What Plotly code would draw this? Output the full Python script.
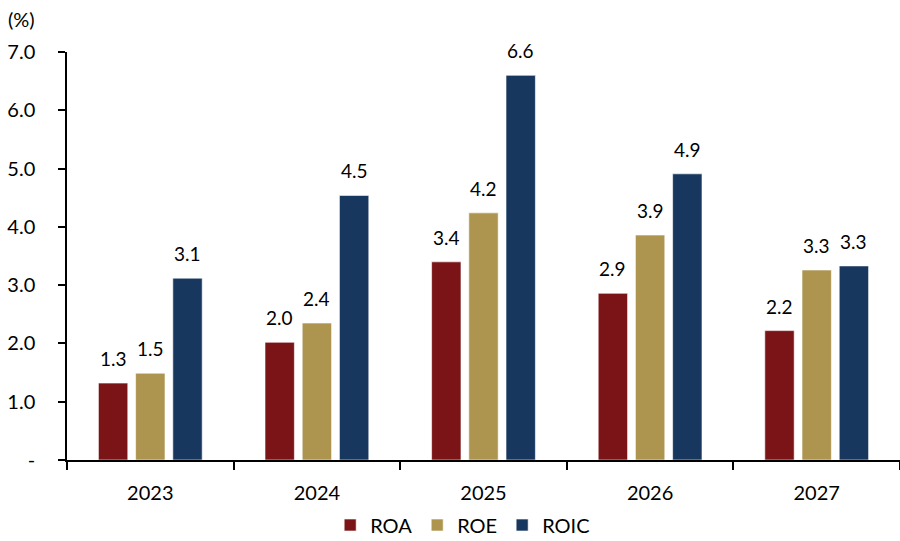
import plotly.graph_objects as go

years = ["2023", "2024", "2025", "2026", "2027"]
roa = [1.32, 2.02, 3.40, 2.86, 2.22]
roe = [1.49, 2.35, 4.24, 3.86, 3.26]
roic = [3.12, 4.54, 6.60, 4.91, 3.33]

series = [("ROA", roa, "#7B1416"), ("ROE", roe, "#AD954F"), ("ROIC", roic, "#17375E")]

y_ticks = [0, 1, 2, 3, 4, 5, 6, 7]
y_ticktext = ["-", "1.0", "2.0", "3.0", "4.0", "5.0", "6.0", "7.0"]

FONT = "Lato"
AXIS_SIZE = 20
LABEL_SIZE = 19
W, H = 900, 541
M_L, M_R, M_T, M_B = 67, 0, 52, 81
BARGAP = 0.33
BARGROUPGAP = 0.21

fig = go.Figure()
for name, vals, color in series:
    fig.add_trace(go.Bar(
        x=years, y=vals, name=name,
        marker=dict(color=color, line=dict(color="rgba(255,255,255,0.6)", width=1)),
    ))

# value labels above each bar, offset to the bar's slot within the group
plot_w = W - M_L - M_R
plot_h = H - M_T - M_B
slot = plot_w / len(years) * (1 - BARGAP) / len(series)
for i, (name, vals, color) in enumerate(series):
    for j, v in enumerate(vals):
        fig.add_annotation(
            x=j, y=v, xref="x", yref="y",
            text=f"{v:.1f}", showarrow=False,
            xshift=(i - 1) * slot, yshift=11,
            yanchor="bottom", xanchor="center",
            font=dict(family=FONT, size=LABEL_SIZE, color="#000000"),
        )

# unit label above the y axis
fig.add_annotation(
    xref="paper", yref="paper",
    x=-(M_L - 6) / plot_w, y=1 + (M_T - 19) / plot_h,
    text="(%)", showarrow=False, xanchor="left", yanchor="middle",
    font=dict(family=FONT, size=AXIS_SIZE, color="#000000"),
)

fig.update_layout(
    width=W, height=H,
    margin=dict(l=M_L, r=M_R, t=M_T, b=M_B, autoexpand=False),
    paper_bgcolor="white", plot_bgcolor="white",
    barmode="group", bargap=BARGAP, bargroupgap=BARGROUPGAP,
    font=dict(family=FONT, size=AXIS_SIZE, color="#000000"),
    legend=dict(
        orientation="h", x=0.475, xanchor="center",
        yref="container", y=16 / H, yanchor="middle",
        font=dict(family=FONT, size=AXIS_SIZE), traceorder="normal",
    ),
    showlegend=True,
)
fig.update_xaxes(
    type="category", range=[-0.5, len(years) - 0.5],
    showline=True, linecolor="#000000", linewidth=1.5,
    ticks="outside", tickson="boundaries", ticklen=8, tickcolor="#000000", tickwidth=1.5,
    ticklabelstandoff=14,
    showgrid=False, tickfont=dict(family=FONT, size=AXIS_SIZE),
)
fig.update_yaxes(
    range=[0, 7], tickvals=y_ticks, ticktext=y_ticktext,
    showline=True, linecolor="#000000", linewidth=1.5,
    ticks="outside", ticklen=7, tickcolor="#000000", tickwidth=1.5,
    ticklabelstandoff=19,
    showgrid=False, zeroline=False, tickfont=dict(family=FONT, size=AXIS_SIZE),
)

fig.write_html("out.html")
